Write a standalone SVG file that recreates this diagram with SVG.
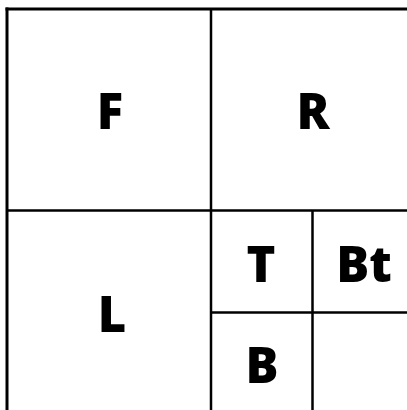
<svg xmlns="http://www.w3.org/2000/svg" width="407" height="410" viewBox="0 0 407 410">
<style>
.ln{stroke:#000;stroke-width:2.5;fill:none}
.outer{stroke:#000;stroke-width:3;fill:none}
.lbl{font-family:"Open Sans","Liberation Sans",sans-serif;font-weight:800;font-size:49px;fill:#000;text-anchor:middle}
</style>
<rect width="407" height="410" fill="#fff"/>
<g id="connectors">
<line class="outer" x1="5.5" y1="9" x2="407" y2="9"/>
<line class="outer" x1="7" y1="7.5" x2="7" y2="410"/>
<line class="ln" x1="211" y1="9" x2="211" y2="410"/>
<line class="ln" x1="7" y1="210.5" x2="407" y2="210.5"/>
<line class="ln" x1="312.5" y1="210.5" x2="312.5" y2="410"/>
<line class="ln" x1="211" y1="312.5" x2="407" y2="312.5"/>
</g>
<g id="F"><text class="lbl" x="110" y="129">F</text></g>
<g id="R"><text class="lbl" x="313" y="129">R</text></g>
<g id="L"><text class="lbl" x="112" y="332">L</text></g>
<g id="T"><text class="lbl" x="261" y="282">T</text></g>
<g id="Bt"><text class="lbl" x="364" y="282">Bt</text></g>
<g id="B"><text class="lbl" x="262" y="383">B</text></g>
</svg>
